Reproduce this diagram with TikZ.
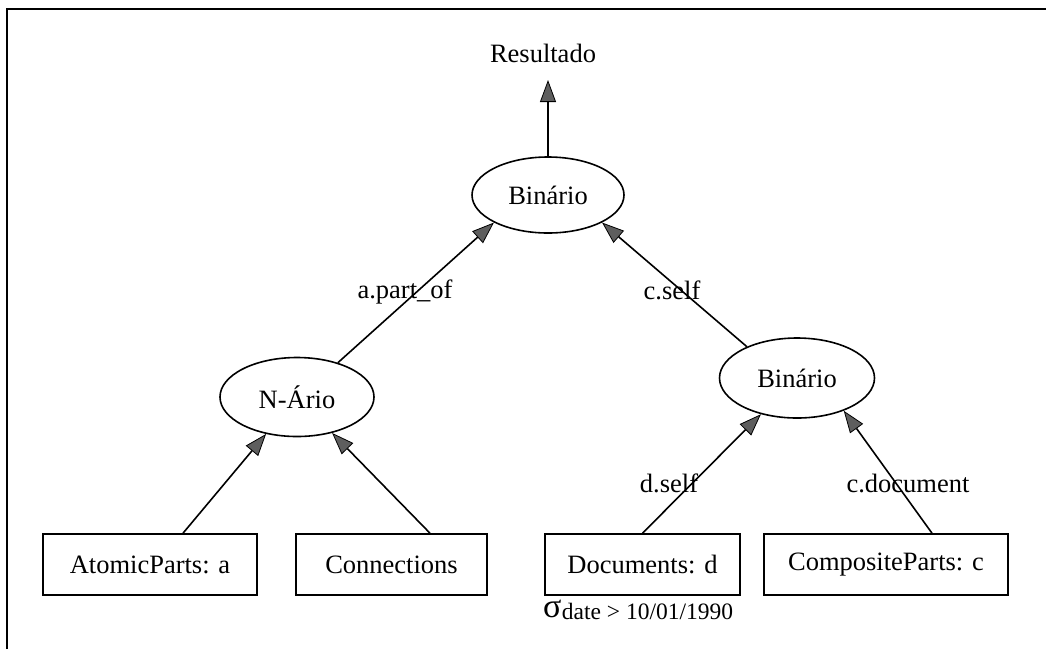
\documentclass[tikz,border=0pt]{standalone}
\usepackage{fontspec}
\setmainfont{Liberation Serif}
\usetikzlibrary{shapes.geometric,arrows.meta,calc}
\definecolor{tipgray}{HTML}{5E5E5E}
\begin{document}
\begin{tikzpicture}[x=1pt,y=-1pt,
  txt/.style={font=\fontsize{26.5}{30}\selectfont, inner sep=0pt},
  op/.style={txt, draw, ellipse, line width=1.6pt},
  rel/.style={txt, draw, rectangle, line width=1.6pt, minimum height=61pt},
  arr/.style={line width=1.6pt, -{Triangle[length=22pt,width=16pt,fill=tipgray,line width=0.8pt]}},
  lbl/.style={txt}]
  \useasboundingbox (0,0) rectangle (1046,649);
  % frame lines (left and top)
  \draw[line width=1.6pt] (7,649) -- (7,9) -- (1046,9);

  % operator nodes
  \node[txt] (res) at (543,53) {Resultado};
  \node[op, minimum width=152pt, minimum height=76pt] (top) at (548,195) {Binário};
  \node[op, minimum width=154pt, minimum height=79pt] (nario) at (297,397) {N-Ário};
  \node[op, minimum width=155pt, minimum height=80pt] (rb) at (797,378) {Binário};

  % relations
  \node[rel, minimum width=214pt] (ap) at (150,564.5) {AtomicParts: a};
  \node[rel, minimum width=191pt] (cn) at (391.5,564.5) {Connections};
  \node[rel, minimum width=195pt] (dc) at (642.5,564.5) {Documents: d};
  \node[rel, minimum width=244pt] (cp) at (886,564.5) {CompositeParts: c};

  % selection predicate under Documents
  \node[anchor=base west, inner sep=0pt, font=\fontsize{34}{38}\selectfont] (sig) at (543,617) {σ};
  \node[anchor=base west, inner sep=0pt, font=\fontsize{23.5}{27}\selectfont, yshift=-2pt] (pred) at (sig.base east) {date > 10/01/1990};

  % connectors
  \draw[arr] (top.north) -- ($(res.center)+(5,27)$);
  \draw[arr] (nario.40) -- (top.207);
  \draw[arr] (rb.148) -- (top.333);
  \draw[arr] ($(ap.north)+(33,0)$) -- (nario);
  \draw[arr] ($(cn.north)+(38.5,0)$) -- (nario);
  \draw[arr] (dc.north) -- (rb);
  \draw[arr] ($(cp.north)+(46,0)$) -- (rb.-35);

  % join labels
  \node[lbl] (l1) at (405,292) {a.part\_of};
  \node[lbl] (l2) at (672,290) {c.self};
  \node[lbl] (l3) at (669,483) {d.self};
  \node[lbl] (l4) at (908,483) {c.document};
\end{tikzpicture}
\end{document}
